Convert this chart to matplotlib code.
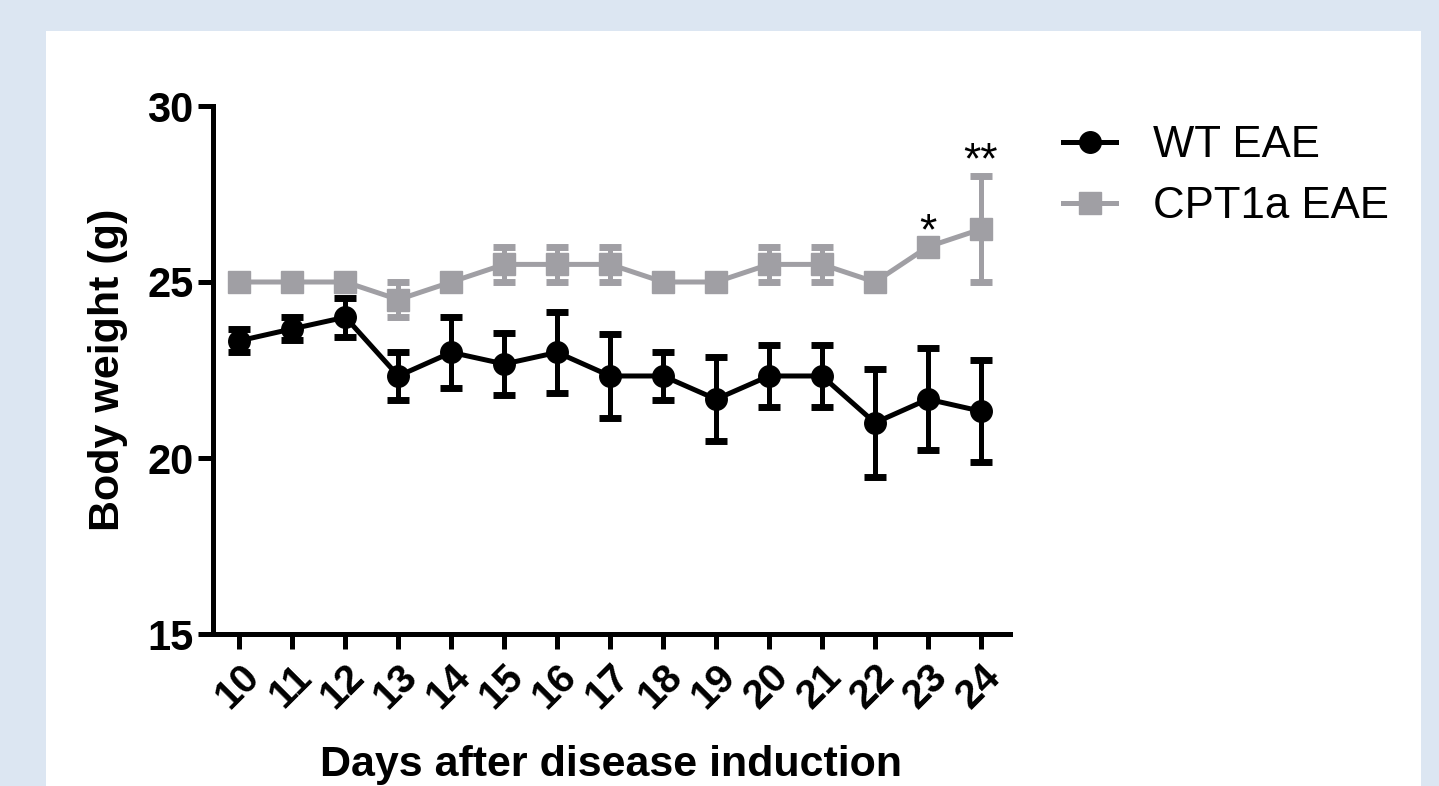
import matplotlib
matplotlib.use("Agg")
import matplotlib.pyplot as plt
from matplotlib.patches import Rectangle
from matplotlib.lines import Line2D

plt.rcParams['font.family'] = ['Liberation Sans', 'DejaVu Sans']

# data
days = [10, 11, 12, 13, 14, 15, 16, 17, 18, 19, 20, 21, 22, 23, 24]
wt_mean = [23.33, 23.67, 24.0, 22.33, 23.0, 22.67, 23.0, 22.33, 22.33, 21.67, 22.33, 22.33, 21.0, 21.67, 21.33]
wt_err = [0.33, 0.33, 0.55, 0.67, 1.0, 0.88, 1.15, 1.2, 0.67, 1.2, 0.88, 0.88, 1.53, 1.45, 1.45]
cpt_mean = [25.0, 25.0, 25.0, 24.5, 25.0, 25.5, 25.5, 25.5, 25.0, 25.0, 25.5, 25.5, 25.0, 26.0, 26.5]
cpt_err = [0, 0, 0, 0.5, 0, 0.5, 0.5, 0.5, 0, 0, 0.5, 0.5, 0, 0, 1.5]
sig_days = [23, 24]
sig_marks = ['*', '**']

gray = '#a09fa4'

fig = plt.figure(figsize=(14.39, 7.86), dpi=100)
fig.patch.set_facecolor('#dce6f2')
panel = Rectangle((46 / 1439, 0), 1375 / 1439, 755 / 786,
                  transform=fig.transFigure, facecolor='white',
                  edgecolor='none', zorder=-10)
fig.patches.append(panel)

ax = fig.add_axes([213 / 1439, 1 - 634 / 786, (1010 - 213) / 1439, (634 - 106) / 786])
ax.set_facecolor('none')

ax.errorbar(days, cpt_mean, yerr=cpt_err, color=gray, marker='s', ms=15.5,
            lw=3.6, elinewidth=3.6, capsize=8, capthick=5, clip_on=False, zorder=3)
ax.errorbar(days, wt_mean, yerr=wt_err, color='black', marker='o', ms=15.5,
            lw=3.6, elinewidth=3.6, capsize=8, capthick=5, clip_on=False, zorder=4)

for d, s in zip(sig_days, sig_marks):
    i = days.index(d)
    ax.annotate(s, (d, cpt_mean[i] + cpt_err[i]), xytext=(0, 2),
                textcoords='offset points', ha='center', va='baseline', fontsize=32)

ax.set_xlim(9.5, 24.55)
ax.set_ylim(15, 30)
ax.set_yticks([15, 20, 25, 30])
ax.set_xticks(days)
ax.set_xticklabels([str(d) for d in days], rotation=45, ha='right',
                   rotation_mode='anchor', fontsize=29, fontweight='bold')
ax.set_yticklabels(['15', '20', '25', '30'], fontsize=30, fontweight='bold')

for side in ['top', 'right']:
    ax.spines[side].set_visible(False)
for side in ['left', 'bottom']:
    ax.spines[side].set_linewidth(3.6)
ax.tick_params(axis='both', length=11, width=3.6, direction='out')
ax.tick_params(axis='x', pad=6)
ax.tick_params(axis='y', pad=3)

ax.set_xlabel('Days after disease induction', fontsize=31, fontweight='bold', labelpad=21)
ax.set_ylabel('Body weight (g)', fontsize=31, fontweight='bold', labelpad=14)

handles = [Line2D([], [], color='black', marker='o', ms=15.5, lw=3.6),
           Line2D([], [], color=gray, marker='s', ms=15.5, lw=3.6)]
fig.legend(handles, ['WT EAE', 'CPT1a EAE'], loc='upper left',
           bbox_to_anchor=(1024 / 1439, 1 - 86 / 786), frameon=False,
           fontsize=31.5, handlelength=1.2, handletextpad=0.85, labelspacing=0.45)

fig.savefig('out.png', dpi=100, facecolor=fig.get_facecolor())
